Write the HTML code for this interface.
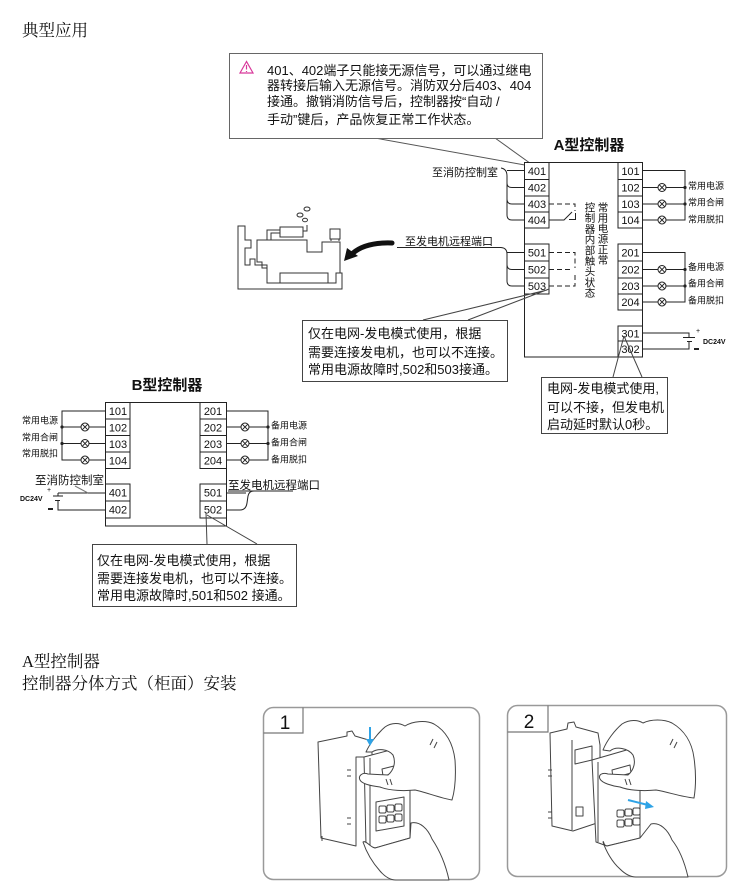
<!DOCTYPE html>
<html><head><meta charset="utf-8">
<style>
html,body{margin:0;padding:0;background:#fff;}
body{width:750px;height:892px;overflow:hidden;position:relative;}
svg{position:absolute;left:0;top:0;}
.s{font-family:"Liberation Sans","Noto Sans CJK SC",sans-serif;fill:#111;}
.serif{font-family:"Liberation Serif","Noto Serif CJK SC",serif;fill:#111;}
</style></head><body>
<svg width="750" height="892" viewBox="0 0 750 892" xmlns="http://www.w3.org/2000/svg">
<!-- headings -->
<text class="serif" x="22" y="36" font-size="16.5">典型应用</text>
<text class="serif" x="22" y="667" font-size="16.5">A型控制器</text>
<text class="serif" x="22" y="689" font-size="16.5">控制器分体方式（柜面）安装</text>

<!-- ===== top warning callout ===== -->
<g stroke="#555" stroke-width="1" fill="none">
 <path d="M375,138 L536,167 M495,138 L534,166"/>
</g>
<rect x="229.5" y="53.5" width="313" height="85" fill="#fff" stroke="#666" stroke-width="1"/>
<polygon points="246.5,61.5 240,73 253,73" fill="none" stroke="#d8389a" stroke-width="1.2"/>
<path d="M246.5,65 V69.5 M246.5,71 V72" stroke="#d8389a" stroke-width="1.2"/>
<g class="s" font-size="13">
 <text x="267" y="75">401、402端子只能接无源信号，可以通过继电</text>
 <text x="267" y="90">器转接后输入无源信号。消防双分后403、404</text>
 <text x="267" y="106">接通。撤销消防信号后，控制器按“自动 /</text>
 <text x="267" y="124">手动”键后，产品恢复正常工作状态。</text>
</g>

<!-- ===== A controller ===== -->
<text class="s" x="589" y="150" font-size="15" font-weight="bold" text-anchor="middle">A型控制器</text>
<g stroke="#222" stroke-width="1" fill="#fff">
 <rect x="524.5" y="162.5" width="118" height="194.5"/>
 <rect x="524.5" y="162.5" width="24.5" height="17"/>
 <rect x="524.5" y="179.5" width="24.5" height="16.5"/>
 <rect x="524.5" y="196" width="24.5" height="16"/>
 <rect x="524.5" y="212" width="24.5" height="16"/>
 <rect x="524.5" y="244" width="24.5" height="17"/>
 <rect x="524.5" y="261" width="24.5" height="17"/>
 <rect x="524.5" y="278" width="24.5" height="16"/>
 <rect x="618" y="162.5" width="24.5" height="17"/>
 <rect x="618" y="179.5" width="24.5" height="16.5"/>
 <rect x="618" y="196" width="24.5" height="16"/>
 <rect x="618" y="212" width="24.5" height="16"/>
 <rect x="618" y="244" width="24.5" height="17"/>
 <rect x="618" y="261" width="24.5" height="17"/>
 <rect x="618" y="278" width="24.5" height="16"/>
 <rect x="618" y="294" width="24.5" height="16"/>
 <rect x="618" y="326" width="24.5" height="15"/>
 <rect x="618" y="341" width="24.5" height="16"/>
</g>
<g class="s" font-size="11" text-anchor="middle">
 <text x="537" y="175">401</text><text x="537" y="191.5">402</text><text x="537" y="208">403</text><text x="537" y="224">404</text>
 <text x="537" y="256.5">501</text><text x="537" y="273.5">502</text><text x="537" y="290">503</text>
 <text x="630.5" y="175">101</text><text x="630.5" y="191.5">102</text><text x="630.5" y="208">103</text><text x="630.5" y="224">104</text>
 <text x="630.5" y="256.5">201</text><text x="630.5" y="273.5">202</text><text x="630.5" y="290">203</text><text x="630.5" y="306">204</text>
 <text x="630.5" y="337.5">301</text><text x="630.5" y="353">302</text>
</g>
<g stroke="#222" stroke-width="1" fill="none">
 <path d="M549,204 H575 V211" stroke-dasharray="5,3"/>
 <path d="M549,220 H564 L572,212"/>
 <path d="M569,219.5 H575.5 V213"/>
 <path d="M549,252.5 H575 V268" stroke-dasharray="5,3"/>
 <path d="M549,269.5 H572" stroke-dasharray="5,3"/>
 <path d="M549,286 H575 V272" stroke-dasharray="5,3"/>
</g>
<g class="s" font-size="10.5" text-anchor="middle">
 <text x="603" y="211">常</text><text x="603" y="221.5">用</text><text x="603" y="232">电</text><text x="603" y="242.5">源</text><text x="603" y="253">正</text><text x="603" y="263.5">常</text>
 <text x="590" y="211">控</text><text x="590" y="221.7">制</text><text x="590" y="232.4">器</text><text x="590" y="243.1">内</text><text x="590" y="253.8">部</text><text x="590" y="264.5">触</text><text x="590" y="275.2">头</text><text x="590" y="285.9">状</text><text x="590" y="296.6">态</text>
</g>
<g stroke="#222" stroke-width="1" fill="none">
 <path d="M501,168 Q507,169 507,176 V215 Q507,220 512,220 H524.5"/>
 <path d="M507,170.5 H524.5"/>
 <path d="M507,183 Q507,187.5 512,187.5 H524.5"/>
 <path d="M507,199 Q507,204 512,204 H524.5"/>
 <path d="M397,247.5 H501 Q507,248 507,254 V281 Q507,286 512,286 H524.5"/>
 <path d="M507,252.5 H524.5"/>
 <path d="M507,264.5 Q507,269.5 512,269.5 H524.5"/>
</g>
<g class="s" font-size="11">
 <text x="432" y="176">至消防控制室</text>
 <text x="405" y="245">至发电机远程端口</text>
</g>
<g stroke="#222" stroke-width="1" fill="none">
 <path d="M642.5,170.5 H685 V220 H642.5"/>
 <path d="M642.5,187.5 H685 M642.5,204 H685"/>
 <path d="M642.5,252.5 H685 V302 H642.5"/>
 <path d="M642.5,269.5 H685 M642.5,286 H685"/>
 <path d="M642.5,333 H689 V337.5 M683,337.5 H695 M687,341.5 H692 M689,341.5 V349 H642.5"/>
</g>
<g fill="#222">
 <circle cx="685" cy="187.5" r="1.6"/><circle cx="685" cy="204" r="1.6"/>
 <circle cx="685" cy="269.5" r="1.6"/><circle cx="685" cy="286" r="1.6"/>
 <rect x="694" y="348" width="5" height="2"/>
</g>
<g stroke="#222" stroke-width="1" fill="#fff">
 <circle cx="662" cy="187.5" r="4"/><circle cx="662" cy="204" r="4"/><circle cx="662" cy="220" r="4"/>
 <circle cx="662" cy="269.5" r="4"/><circle cx="662" cy="286" r="4"/><circle cx="662" cy="302" r="4"/>
 <path fill="none" d="M659.2,184.7 l5.6,5.6 M659.2,190.3 l5.6,-5.6 M659.2,201.2 l5.6,5.6 M659.2,206.8 l5.6,-5.6 M659.2,217.2 l5.6,5.6 M659.2,222.8 l5.6,-5.6 M659.2,266.7 l5.6,5.6 M659.2,272.3 l5.6,-5.6 M659.2,283.2 l5.6,5.6 M659.2,288.8 l5.6,-5.6 M659.2,299.2 l5.6,5.6 M659.2,304.8 l5.6,-5.6"/>
</g>
<g class="s" font-size="9">
 <text x="688" y="189">常用电源</text><text x="688" y="205.5">常用合闸</text><text x="688" y="222.5">常用脱扣</text>
 <text x="688" y="270">备用电源</text><text x="688" y="286.5">备用合闸</text><text x="688" y="303.5">备用脱扣</text>
</g>
<text class="s" x="696" y="333" font-size="7">+</text>
<text class="s" x="703" y="344" font-size="7" font-weight="bold">DC24V</text>

<!-- generator drawing -->
<g stroke="#333" stroke-width="1" fill="none">
 <path d="M238,226 V289 H342 V273 H336 V283 H267 V265 H255 V259 H250 V265 H245 V248 H251 V240 H245 V226 Z"/>
 <path d="M257,248 V240 H307 V252 H322 V242 H340 V273"/>
 <path d="M257,248 V262 H262 V268 H267"/>
 <rect x="280" y="273" width="48" height="10"/>
 <rect x="280" y="227" width="23" height="10"/>
 <path d="M267,240 V230 H280 M271,240 V233 H280 M303,231 H307 V225"/>
 <rect x="330" y="229" width="10" height="10"/>
 <path d="M331,239 V241 M339,239 V241"/>
 <ellipse cx="300" cy="215" rx="3" ry="2"/><ellipse cx="307" cy="209" rx="3" ry="2"/><ellipse cx="305" cy="220" rx="2.5" ry="1.8"/>
</g>
<path d="M392,243 Q366,242 353,253" stroke="#111" stroke-width="5" fill="none" stroke-linecap="round"/>
<polygon points="344,261 347,248 358,256" fill="#111"/>

<!-- callouts -->
<g stroke="#444" stroke-width="1" fill="none">
 <path d="M423,320 L547,290 M468,320 L549,289"/>
 <path d="M613,377 L624,336 M642,377 L624,336"/>
</g>
<rect x="302.5" y="320.5" width="205" height="61" fill="#fff" stroke="#444" stroke-width="1"/>
<g class="s" font-size="13">
 <text x="308" y="338">仅在电网-发电模式使用，根据</text>
 <text x="308" y="357">需要连接发电机，也可以不连接。</text>
 <text x="308" y="374">常用电源故障时,502和503接通。</text>
</g>
<rect x="541.5" y="377.5" width="126" height="56" fill="#fff" stroke="#444" stroke-width="1"/>
<g class="s" font-size="13">
 <text x="547" y="393">电网-发电模式使用,</text>
 <text x="547" y="412">可以不接，但发电机</text>
 <text x="547" y="429">启动延时默认0秒。</text>
</g>

<!-- ===== B controller ===== -->
<text class="s" x="167" y="390" font-size="15" font-weight="bold" text-anchor="middle">B型控制器</text>
<g stroke="#222" stroke-width="1" fill="#fff">
 <rect x="105.5" y="402.5" width="121" height="123.5"/>
 <rect x="105.5" y="402.5" width="24.5" height="16.5"/>
 <rect x="105.5" y="419" width="24.5" height="16.5"/>
 <rect x="105.5" y="435.5" width="24.5" height="16.5"/>
 <rect x="105.5" y="452" width="24.5" height="16.5"/>
 <rect x="105.5" y="484" width="24.5" height="17"/>
 <rect x="105.5" y="501" width="24.5" height="17"/>
 <rect x="200" y="402.5" width="26.5" height="16.5"/>
 <rect x="200" y="419" width="26.5" height="16.5"/>
 <rect x="200" y="435.5" width="26.5" height="16.5"/>
 <rect x="200" y="452" width="26.5" height="16.5"/>
 <rect x="200" y="484" width="26.5" height="17"/>
 <rect x="200" y="501" width="26.5" height="17"/>
</g>
<g class="s" font-size="11" text-anchor="middle">
 <text x="118" y="415">101</text><text x="118" y="431.5">102</text><text x="118" y="448">103</text><text x="118" y="464.5">104</text>
 <text x="118" y="496.5">401</text><text x="118" y="513.5">402</text>
 <text x="213" y="415">201</text><text x="213" y="431.5">202</text><text x="213" y="448">203</text><text x="213" y="464.5">204</text>
 <text x="213" y="496.5">501</text><text x="213" y="513.5">502</text>
</g>
<g stroke="#222" stroke-width="1" fill="none">
 <path d="M105.5,411 H62 V460 H105.5 M105.5,427 H62 M105.5,443.5 H62"/>
 <path d="M226.5,411 H268 V460 H226.5 M226.5,427 H268 M226.5,443.5 H268"/>
 <path d="M58,493 H105.5 M58,493 V496 M53,496 H63 M55,500.5 H60 M58,500.5 V510 H105.5"/>
 <path d="M226.5,493 H246 M226.5,510 H240 Q246,510 247,503 L248,496 Q249,491 254,491 M228,491 H293"/>
</g>
<path d="M75,486 L88,493" stroke="#777" stroke-width="1"/>
<g fill="#222">
 <circle cx="62" cy="427" r="1.6"/><circle cx="62" cy="443.5" r="1.6"/>
 <circle cx="268" cy="427" r="1.6"/><circle cx="268" cy="443.5" r="1.6"/>
 <rect x="48" y="508" width="5" height="2"/>
</g>
<g stroke="#222" stroke-width="1" fill="#fff">
 <circle cx="85" cy="427" r="4"/><circle cx="85" cy="443.5" r="4"/><circle cx="85" cy="460" r="4"/>
 <circle cx="245" cy="427" r="4"/><circle cx="245" cy="443.5" r="4"/><circle cx="245" cy="460" r="4"/>
 <path fill="none" d="M82.2,424.2 l5.6,5.6 M82.2,429.8 l5.6,-5.6 M82.2,440.7 l5.6,5.6 M82.2,446.3 l5.6,-5.6 M82.2,457.2 l5.6,5.6 M82.2,462.8 l5.6,-5.6 M242.2,424.2 l5.6,5.6 M242.2,429.8 l5.6,-5.6 M242.2,440.7 l5.6,5.6 M242.2,446.3 l5.6,-5.6 M242.2,457.2 l5.6,5.6 M242.2,462.8 l5.6,-5.6"/>
</g>
<g class="s" font-size="9">
 <text x="58" y="423.5" text-anchor="end">常用电源</text><text x="58" y="440.5" text-anchor="end">常用合闸</text><text x="58" y="456.5" text-anchor="end">常用脱扣</text>
 <text x="271" y="428.5">备用电源</text><text x="271" y="445.5">备用合闸</text><text x="271" y="462.5">备用脱扣</text>
</g>
<text class="s" x="47" y="492" font-size="7">+</text>
<text class="s" x="20" y="501" font-size="7" font-weight="bold">DC24V</text>
<g class="s" font-size="11.5">
 <text x="35" y="484">至消防控制室</text>
 <text x="228" y="489">至发电机远程端口</text>
</g>
<g stroke="#444" stroke-width="1" fill="none">
 <path d="M207,544 L206,513 M257,544 L207,515"/>
</g>
<rect x="92.5" y="544.5" width="204" height="62" fill="#fff" stroke="#444" stroke-width="1"/>
<g class="s" font-size="13">
 <text x="97" y="565">仅在电网-发电模式使用，根据</text>
 <text x="97" y="583">需要连接发电机，也可以不连接。</text>
 <text x="97" y="600">常用电源故障时,501和502 接通。</text>
</g>

<!-- ===== photo panels ===== -->
<rect x="263.5" y="707.5" width="216" height="172" rx="10" fill="#fff" stroke="#999" stroke-width="1.5"/>
<path d="M263.5,733 H303 V707.5" fill="none" stroke="#777" stroke-width="1.2"/>
<text class="s" x="285" y="729" font-size="19" text-anchor="middle">1</text>
<g fill="#fff" stroke="#444" stroke-width="1" stroke-linejoin="round">
 <path d="M318,742 L347,736 L347,732 L352,731 L355,736 L372,741 L372,757 L356,757 L356,846 L321,838 Z"/>
 <path d="M347,770 h4 M347,776 h4 M347,818 h4 M347,824 h4 M322,836 v5" fill="none"/>
 <path d="M364,757 L398,748 L410,752 L410,838 L375,848 L366,845 Z"/>
 <path d="M370,758 L370,846" fill="none"/>
 <path d="M382,769 L398,765 L399,772 L383,776 Z"/>
 <rect x="379" y="806" width="7" height="7" rx="1.5"/><rect x="387" y="805" width="7" height="7" rx="1.5"/><rect x="395" y="804" width="7" height="7" rx="1.5"/>
 <rect x="379" y="816" width="7" height="7" rx="1.5"/><rect x="387" y="815" width="7" height="7" rx="1.5"/><rect x="395" y="814" width="7" height="7" rx="1.5"/>
 <path d="M376,802 L404,797 L404,826 L376,831 Z" fill="none"/>
 <path d="M366,752 C370,743 378,733 385,727 C392,722 400,723 405,726 C413,721 426,720 434,724 C446,731 453,743 455,760 C456,775 455,790 452,800 C440,798 425,792 415,790 C405,791 390,791 380,787 C372,786 362,784 360,780 C358,776 362,772 368,774 L388,775 C394,770 396,762 393,755 C388,749 378,748 372,752 Z"/>
 <path d="M430,745 l3,-6 M434,748 l3,-6 M386,779 l2,6 M390,779 l2,6" fill="none"/>
 <path d="M363,842 C366,851 372,862 380,871 C385,877 391,880 396,880 L449,880 C446,866 440,851 432,839 C428,829 420,821 411,823 L410,838 L375,848 C370,847 366,840 363,842 Z"/>
</g>
<path d="M370,727 V740" stroke="#2fa3e6" stroke-width="2"/>
<polygon points="366,739 374,739 370,746" fill="#2fa3e6"/>

<rect x="507.5" y="705.5" width="219" height="171" rx="10" fill="#fff" stroke="#999" stroke-width="1.5"/>
<path d="M507.5,732 H548 V705.5" fill="none" stroke="#777" stroke-width="1.2"/>
<text class="s" x="529" y="728" font-size="19" text-anchor="middle">2</text>
<g fill="#fff" stroke="#444" stroke-width="1" stroke-linejoin="round">
 <path d="M550,733 L567,729 L568,723 L574,722 L576,727 L598,733 L600,745 L600,822 L573,831 L552,826 Z"/>
 <path d="M572,740 L572,830 M575,750 L592,746 L592,760 L575,764 Z" fill="none"/>
 <path d="M548,770 h4 M548,776 h4 M548,812 h4 M548,818 h4" fill="none"/>
 <rect x="576" y="807" width="7" height="9"/>
 <path d="M592,760 L630,749 L640,753 L640,838 L607,846 L596,842 Z"/>
 <path d="M598,762 L598,842" fill="none"/>
 <path d="M612,770 L630,765 L631,773 L613,778 Z"/>
 <rect x="617" y="810" width="7" height="7" rx="1.5"/><rect x="625" y="809" width="7" height="7" rx="1.5"/><rect x="633" y="808" width="7" height="7" rx="1.5"/>
 <rect x="617" y="820" width="7" height="7" rx="1.5"/><rect x="625" y="819" width="7" height="7" rx="1.5"/><rect x="633" y="818" width="7" height="7" rx="1.5"/>
 <path d="M603,750 C607,740 615,730 622,724 C630,719 638,720 643,723 C651,719 664,719 672,723 C684,730 692,742 694,758 C696,772 696,786 694,798 C682,797 668,792 656,790 C646,791 630,791 620,787 C612,786 602,783 600,779 C598,775 602,772 608,774 L628,775 C634,770 636,762 633,755 C628,748 616,746 610,751 Z"/>
 <path d="M670,745 l3,-6 M674,748 l3,-6 M625,779 l2,6 M629,779 l2,6" fill="none"/>
 <path d="M603,842 C606,851 612,862 620,869 C625,874 631,877 636,877 L688,877 C685,864 680,850 672,840 C668,830 660,822 651,824 L640,838 L607,846 C603,846 604,840 603,842 Z"/>
</g>
<path d="M628,800 L648,805" stroke="#2fa3e6" stroke-width="2"/>
<polygon points="646,801 654,807 645,809" fill="#2fa3e6"/>
</svg>
</body></html>
